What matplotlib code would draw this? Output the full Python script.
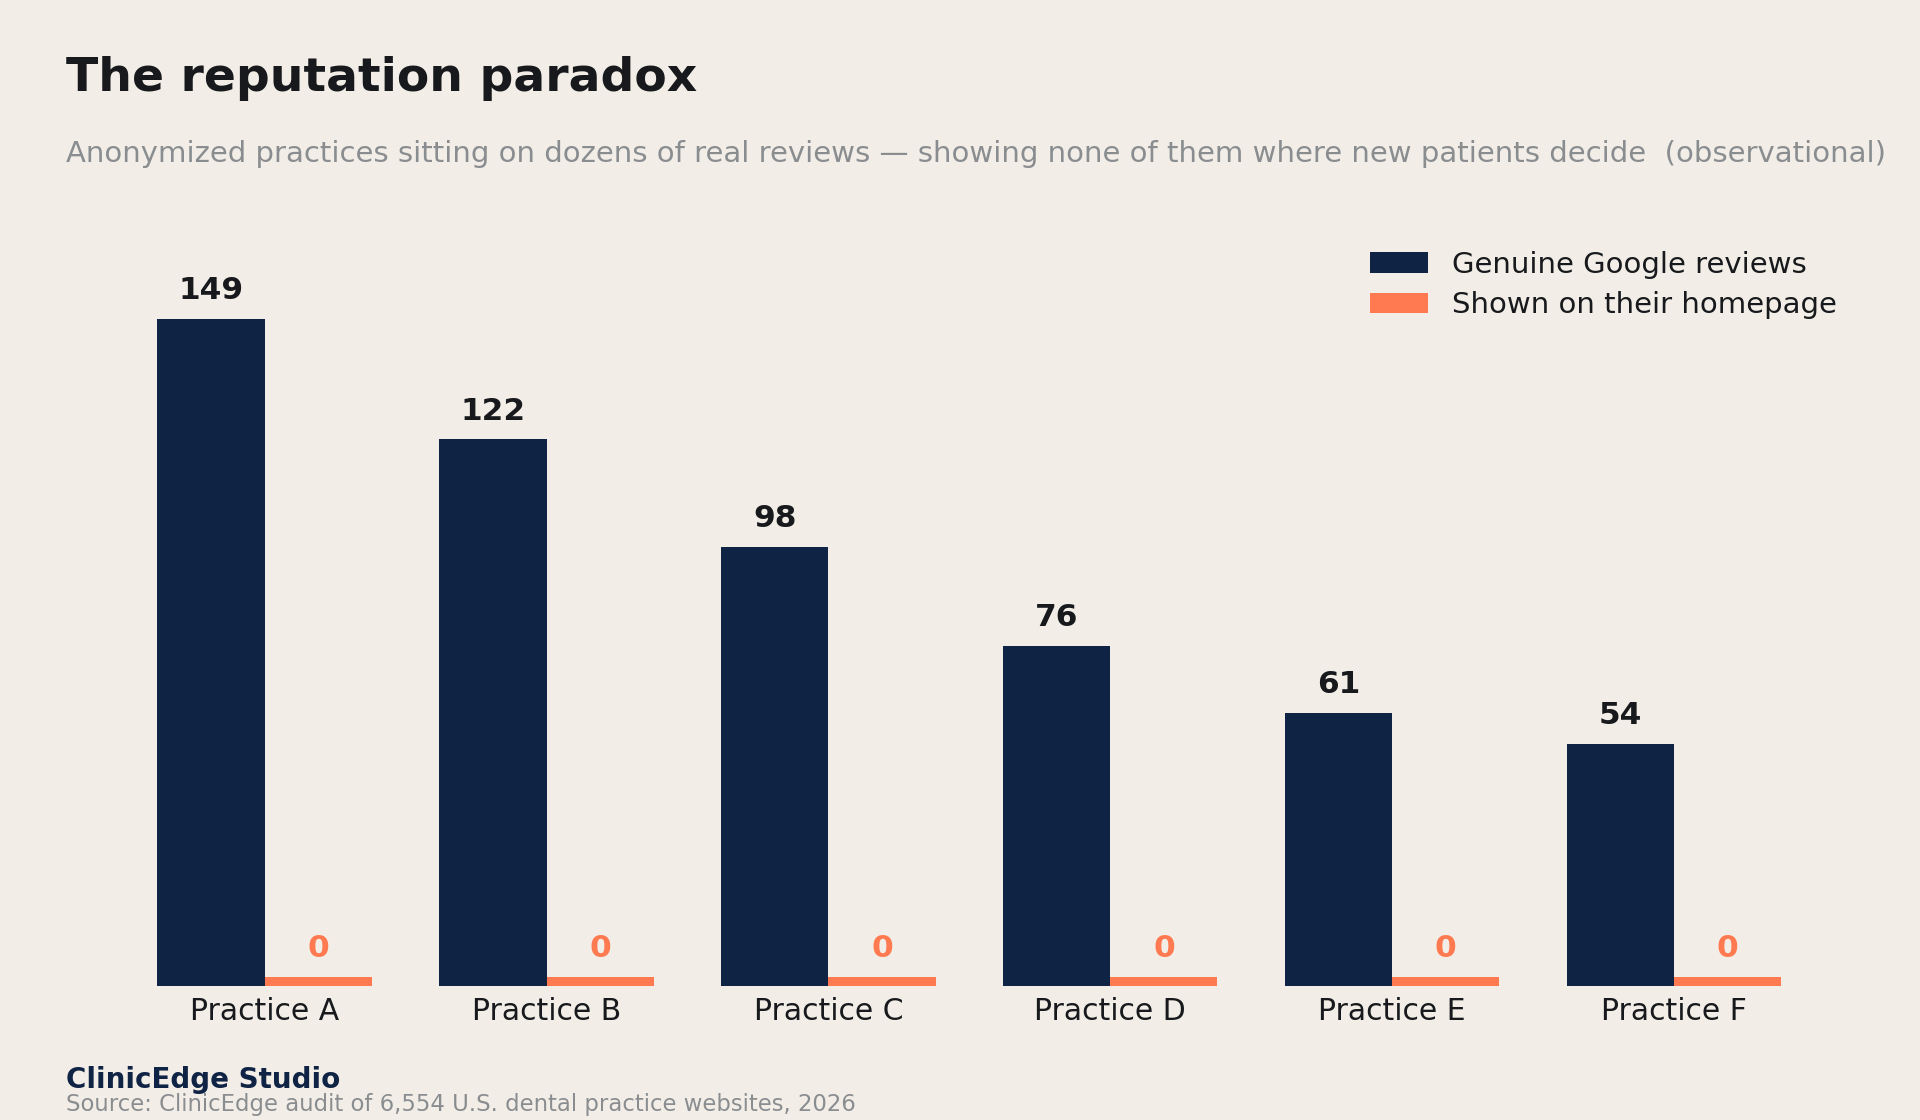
import numpy as np
import matplotlib
matplotlib.use("Agg")
import matplotlib.pyplot as plt

# ======== DATA ========
practices = ["Practice A", "Practice B", "Practice C", "Practice D", "Practice E", "Practice F"]
genuine_reviews = [149, 122, 98, 76, 61, 54]
shown_on_homepage = [0, 0, 0, 0, 0, 0]

BG = "#F2EEE7"
NAVY = "#0F2345"
ORANGE = "#FF7A50"
INK = "#17191C"
GREY = "#8A8D90"

# ======== FIGURE ========
fig = plt.figure(figsize=(19.2, 11.2), dpi=100, facecolor=BG)
ax = fig.add_axes([0.0644, 0.1196, 0.881, 0.680])
ax.set_facecolor(BG)

x = np.arange(len(practices))
w = 0.38
stub = 2.0  # zero bars get a thin visible stub

shown_h = [max(v, stub) for v in shown_on_homepage]
ax.bar(x - w / 2, genuine_reviews, w, color=NAVY, label="Genuine Google reviews")
ax.bar(x + w / 2, shown_h, w, color=ORANGE, label="Shown on their homepage")

# value labels
for xi, v in zip(x, genuine_reviews):
    ax.annotate(str(v), (xi - w / 2, v), xytext=(0, 10), textcoords="offset points",
                ha="center", va="bottom", fontsize=22.5, fontweight="bold", color=INK)
for xi, v, h in zip(x, shown_on_homepage, shown_h):
    ax.annotate(str(v), (xi + w / 2, h), xytext=(0, 10), textcoords="offset points",
                ha="center", va="bottom", fontsize=22.5, fontweight="bold", color=ORANGE)

ax.set_xlim(-0.5, 5.5)
ax.set_ylim(0, 170)
ax.set_xticks(x)
ax.set_xticklabels(practices, fontsize=21.5, color=INK)
ax.tick_params(axis="x", length=0, pad=8)
ax.set_yticks([])
for s in ax.spines.values():
    s.set_visible(False)

leg = fig.legend(loc="upper left", bbox_to_anchor=(1370 / 1920, 0.776), frameon=False,
                 fontsize=21, handlelength=2.0, handletextpad=0.8, labelspacing=0.42,
                 borderpad=0, borderaxespad=0)
for t in leg.get_texts():
    t.set_color(INK)

# ======== TEXTS ========
fig.text(66 / 1920, 1 - 91 / 1120, "The reputation paradox", fontsize=34, fontweight="bold",
         color=INK, va="baseline", ha="left")
fig.text(66 / 1920, 1 - 162 / 1120,
         "Anonymized practices sitting on dozens of real reviews \u2014 showing none of them where new patients decide  (observational)",
         fontsize=21, color=GREY, va="baseline", ha="left")
fig.text(66 / 1920, 1 - 1088 / 1120, "ClinicEdge Studio", fontsize=20, fontweight="bold",
         color=NAVY, va="baseline", ha="left")
fig.text(66 / 1920, 1 - 1111 / 1120, "Source: ClinicEdge audit of 6,554 U.S. dental practice websites, 2026",
         fontsize=16.4, color=GREY, va="baseline", ha="left")

fig.savefig("out.png", dpi=100, facecolor=BG)
